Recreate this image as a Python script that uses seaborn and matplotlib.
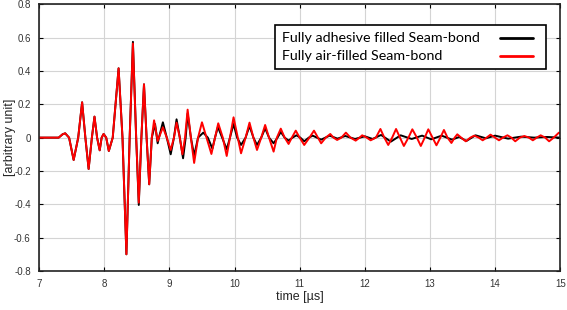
import numpy as np
import pandas as pd
import matplotlib
matplotlib.use("Agg")
import matplotlib.pyplot as plt
import seaborn as sns
from matplotlib.lines import Line2D
from matplotlib.patches import Rectangle

# ---- data ----
red_t = [7.0, 7.3, 7.36, 7.40, 7.46, 7.53, 7.60, 7.66, 7.71, 7.76, 7.81, 7.85, 7.89, 7.93,
         7.96, 7.99, 8.03, 8.07, 8.13, 8.22, 8.28, 8.34, 8.39, 8.44, 8.49, 8.53, 8.57, 8.61,
         8.65, 8.69, 8.73, 8.765, 8.82, 8.90, 8.96, 9.02, 9.07, 9.11, 9.16, 9.20, 9.24, 9.28,
         9.33, 9.38, 9.44, 9.50, 9.57, 9.645, 9.70, 9.75, 9.82, 9.88, 9.93, 9.985, 10.05,
         10.10, 10.17, 10.23, 10.29, 10.345, 10.41, 10.47, 10.53, 10.60, 10.65, 10.71, 10.77,
         10.83, 10.88, 10.94, 11.0, 11.07, 11.15, 11.22, 11.28, 11.33, 11.40, 11.47, 11.52,
         11.575, 11.64, 11.71, 11.78, 11.86, 11.92, 11.96, 12.03, 12.09, 12.17, 12.24, 12.30,
         12.36, 12.42, 12.48, 12.54, 12.60, 12.67, 12.73, 12.80, 12.86, 12.92, 12.975, 13.04,
         13.10, 13.16, 13.215, 13.27, 13.33, 13.38, 13.42, 13.48, 13.55, 13.62, 13.68, 13.75,
         13.81, 13.87, 13.93, 14.0, 14.06, 14.12, 14.19, 14.25, 14.31, 14.38, 14.45, 14.52,
         14.58, 14.64, 14.70, 14.77, 14.83, 14.90, 14.98, 15.0]
red_v = [0.0, 0.0, 0.02, 0.026, 0.0, -0.134, 0.0, 0.212, 0.0, -0.188, 0.0, 0.126, 0.0, -0.076,
         0.0, 0.022, 0.0, -0.08, 0.0, 0.416, 0.0, -0.70, 0.0, 0.565, 0.0, -0.39, 0.0, 0.32,
         0.0, -0.28, 0.0, 0.104, -0.02, 0.062, 0.0, -0.074, 0.0, 0.09, 0.0, -0.10, 0.0, 0.168,
         0.0, -0.152, 0.0, 0.092, 0.0, -0.098, 0.0, 0.086, 0.0, -0.11, 0.0, 0.122, 0.0,
         -0.094, 0.0, 0.09, 0.0, -0.074, 0.0, 0.076, 0.0, -0.084, 0.0, 0.054, 0.0,
         -0.038, 0.0, 0.042, 0.0, -0.044, 0.0, 0.042, 0.0, -0.034, 0.0, 0.022, 0.0,
         -0.014, 0.0, 0.03, 0.0, -0.018, 0.0, 0.014, 0.0, -0.016, 0.0, 0.052, 0.0,
         -0.044, 0.0, 0.052, 0.0, -0.05, 0.0, 0.05, 0.0, -0.05, 0.0, 0.05, 0.0,
         -0.046, 0.0, 0.046, 0.0, -0.032, 0.0, 0.02, 0.0, -0.022, 0.0, 0.012, 0.0,
         -0.016, 0.0, 0.018, 0.0, -0.016, 0.0, 0.014, 0.0, -0.022, 0.0, 0.01, 0.0,
         -0.016, 0.0, 0.014, 0.0, -0.022, 0.0, 0.03, 0.025]

black_t = [7.0, 7.3, 7.36, 7.40, 7.46, 7.53, 7.60, 7.66, 7.71, 7.76, 7.81, 7.85, 7.89, 7.93,
           7.96, 7.99, 8.03, 8.07, 8.13, 8.22, 8.28, 8.34, 8.39, 8.44, 8.49, 8.53, 8.57, 8.61,
           8.65, 8.69, 8.73, 8.78, 8.82, 8.84, 8.90, 8.96, 9.02, 9.07, 9.11, 9.16, 9.21, 9.25,
           9.28, 9.33, 9.38, 9.44, 9.52, 9.59, 9.66, 9.70, 9.745, 9.81, 9.88, 9.93, 9.985,
           10.04, 10.10, 10.17, 10.23, 10.29, 10.345, 10.41, 10.47, 10.53, 10.60, 10.66, 10.71,
           10.77, 10.83, 10.89, 10.95, 11.01, 11.07, 11.14, 11.20, 11.33, 11.46, 11.58, 11.70,
           11.85, 12.00, 12.12, 12.25, 12.40, 12.55, 12.72, 12.88, 13.02, 13.18, 13.34, 13.45,
           13.56, 13.70, 13.86, 14.0, 14.2, 14.4, 14.6, 14.8, 15.0]
black_v = [0.0, 0.0, 0.02, 0.026, 0.0, -0.134, 0.0, 0.212, 0.0, -0.188, 0.0, 0.126, 0.0, -0.076,
           0.0, 0.022, 0.0, -0.08, 0.0, 0.416, 0.0, -0.70, 0.0, 0.575, 0.0, -0.404, 0.0, 0.32,
           0.0, -0.28, 0.0, 0.082, -0.034, 0.0, 0.092, 0.0, -0.10, 0.0, 0.11, 0.0, -0.124, 0.0,
           0.145, 0.0, -0.108, 0.0, 0.03, 0.0, -0.066, 0.0, 0.064, 0.0, -0.07, 0.0, 0.082,
           0.0, -0.044, 0.0, 0.07, 0.0, -0.044, 0.0, 0.056, 0.0, -0.034, 0.0, 0.034,
           0.0, -0.018, 0.0, 0.014, 0.0, -0.022, 0.0, 0.012, -0.012, 0.012, -0.006, 0.01,
           -0.008, 0.008, -0.008, 0.016, -0.024, 0.014, -0.008, 0.012, -0.01, 0.012, -0.012, 0.004,
           -0.02, 0.014, -0.004, 0.012, -0.006, 0.006, 0.0, 0.004, 0.0]

labels = ["Fully adhesive filled Seam-bond", "Fully air-filled Seam-bond"]
colors = ["#000000", "#ff0000"]
x_ticks = [7, 8, 9, 10, 11, 12, 13, 14, 15]
y_ticks = [-0.8, -0.6, -0.4, -0.2, 0, 0.2, 0.4, 0.6, 0.8]
y_tick_labels = ["-0.8", "-0.6", "-0.4", "-0.2", "0", "0.2", "0.4", "0.6", "0.8"]

df = pd.concat([
    pd.DataFrame({"t": black_t, "v": black_v, "series": labels[0]}),
    pd.DataFrame({"t": red_t, "v": red_v, "series": labels[1]}),
], ignore_index=True)

sns.set_theme(style="white")
plt.rcParams["font.family"] = ["Liberation Sans", "DejaVu Sans"]

fig = plt.figure(figsize=(5.67, 3.10), dpi=100)
ax = fig.add_axes([0.069, 0.126, 0.919, 0.860])

sns.lineplot(data=df, x="t", y="v", hue="series",
             palette=dict(zip(labels, colors)), sort=False, estimator=None,
             linewidth=1.4, solid_joinstyle="round", ax=ax, legend=False)

ax.set_xlim(7, 15)
ax.set_ylim(-0.8, 0.8)
ax.set_xticks(x_ticks)
ax.set_xticklabels([str(v) for v in x_ticks])
ax.set_yticks(y_ticks)
ax.set_yticklabels(y_tick_labels)
ax.grid(True, color="#d4d4d4", linewidth=0.8)
ax.tick_params(direction="in", length=3, width=0.8, labelsize=7, colors="#000000",
               top=True, right=True, bottom=True, left=True, pad=6)
for lab in ax.get_xticklabels() + ax.get_yticklabels():
    lab.set_color("#333333")
for sp in ax.spines.values():
    sp.set_color("#222222")
    sp.set_linewidth(1.2)

ax.set_xlabel("time [µs]", fontsize=9)
ax.set_ylabel("[arbitrary unit]", fontsize=9)
ax.xaxis.set_label_coords(0.5, -0.075)
ax.yaxis.set_label_coords(-0.045, 0.5)

# legend: text left, line samples right, in a black frame
frame = Rectangle((0.453, 0.757), 0.520, 0.165, transform=ax.transAxes,
                  facecolor="white", edgecolor="black", linewidth=1.2, zorder=5)
ax.add_patch(frame)
for lab, col, ty in zip(labels, colors, [0.874, 0.808]):
    ax.text(0.466, ty, lab, transform=ax.transAxes, ha="left", va="center",
            family=["Lato", "DejaVu Sans"], fontsize=10.3, color="black", zorder=6)
    ax.add_line(Line2D([0.885, 0.948], [ty, ty], transform=ax.transAxes,
                       color=col, linewidth=2, zorder=6))

fig.savefig("out.png", dpi=100)
